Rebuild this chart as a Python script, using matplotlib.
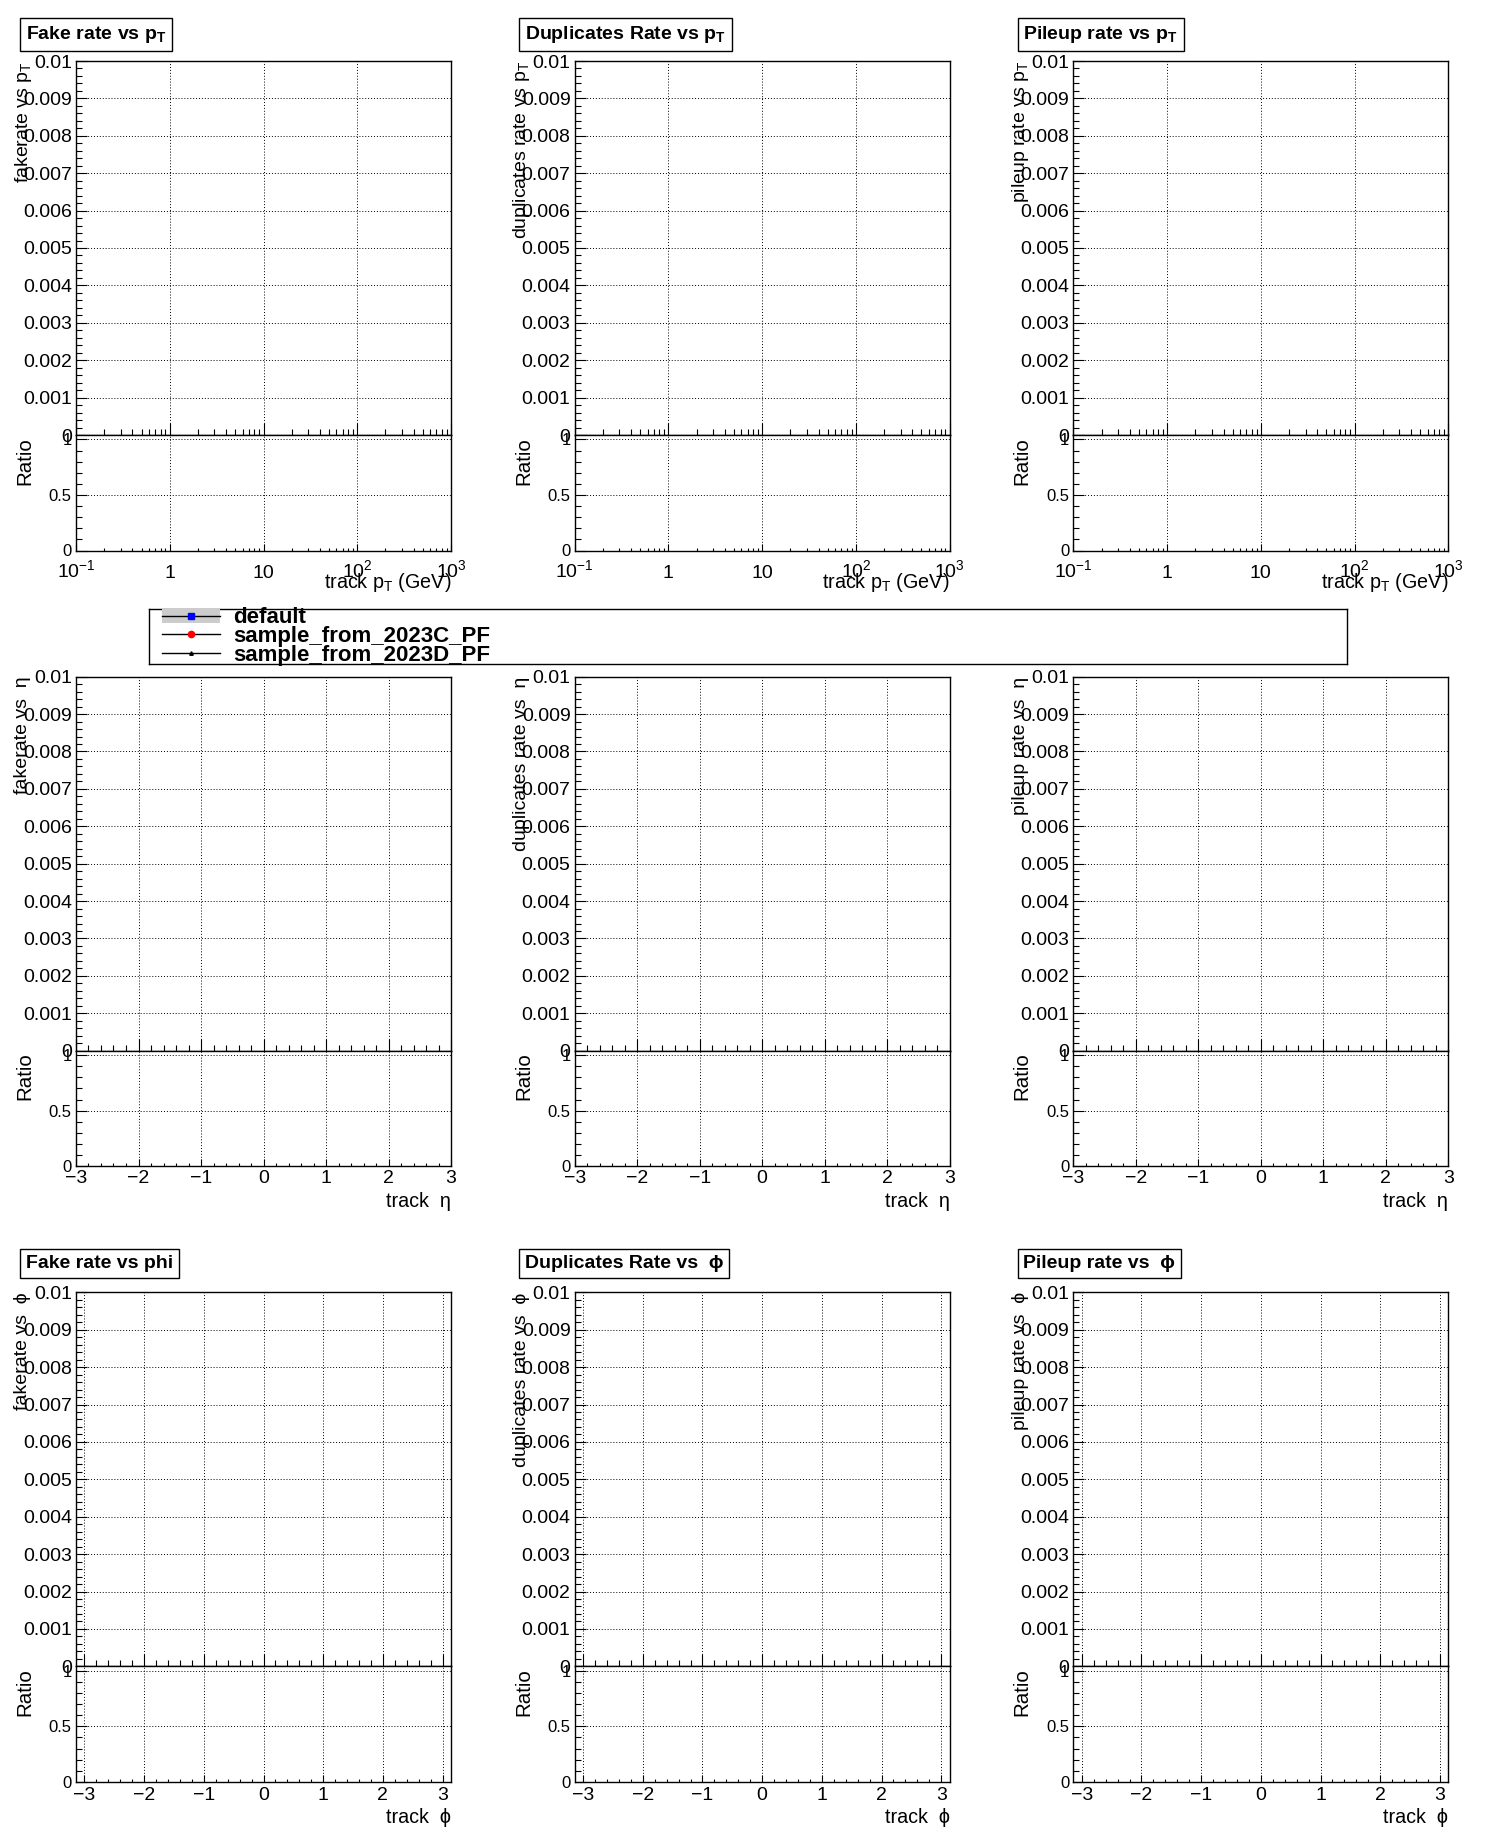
import numpy as np
import matplotlib
matplotlib.use("Agg")
import matplotlib.pyplot as plt
from matplotlib.ticker import MultipleLocator, LogLocator, NullFormatter, FixedLocator, FuncFormatter

plt.rcParams['font.family'] = ['Liberation Sans', 'DejaVu Sans']
plt.rcParams['mathtext.fontset'] = 'custom'
plt.rcParams['mathtext.rm'] = 'Liberation Sans'
plt.rcParams['mathtext.it'] = 'Liberation Sans:italic'
plt.rcParams['mathtext.bf'] = 'Liberation Sans:bold'
plt.rcParams['axes.unicode_minus'] = True

# ---------------- data (all histograms are empty in the reference) ----------------
series_names = ['default', 'sample_from_2023C_PF', 'sample_from_2023D_PF']
default_x, default_y, default_lo, default_hi = [], [], [], []
sampleC_x, sampleC_y = [], []
sampleD_x, sampleD_y = [], []
ratioC_y, ratioD_y = [], []

variables = ['pt', 'eta', 'phi']
panel_titles = [
    ['Fake rate vs p$_\\mathbf{T}$', 'Duplicates Rate vs p$_\\mathbf{T}$', 'Pileup rate vs p$_\\mathbf{T}$'],
    [None, None, None],
    ['Fake rate vs phi', 'Duplicates Rate vs  ϕ', 'Pileup rate vs  ϕ'],
]
y_titles = [
    ['fakerate vs p$_\\mathrm{T}$', 'duplicates rate vs p$_\\mathrm{T}$', 'pileup rate vs p$_\\mathrm{T}$'],
    ['fakerate vs  η', 'duplicates rate vs  η', 'pileup rate vs  η'],
    ['fakerate vs  ϕ', 'duplicates rate vs  ϕ', 'pileup rate vs  ϕ'],
]
x_titles = ['track p$_\\mathrm{T}$ (GeV)', 'track  η', 'track  ϕ']
x_ranges = [(0.1, 1000.0), (-3.0, 3.0), (-np.pi, np.pi)]
pt_ticks = [0.1, 1, 10, 100, 1000]
pt_ticklabels = ['$10^{-1}$', '1', '10', '$10^{2}$', '$10^{3}$']
angle_ticks = [-3, -2, -1, 0, 1, 2, 3]
rate_range = (0.0, 0.01)
ratio_range = (0.0, 1.04)
ratio_ticks = [0, 0.5, 1]

# ---------------- layout (pixels) ----------------
W, H = 1496, 1847
fig = plt.figure(figsize=(W / 100, H / 100), dpi=100)
col_w, row_h = W / 3, H / 3
AX_L, AX_R = 76, 451
TOP, MID, BOT = 61, 435, 550.5
xlab_base = [27, 17, 18]      # baseline of x tick labels below axis (px)
xtitle_base = [588, 591, 591.5]
title_base = [39, None, 37]

grid_kw = dict(color='black', linestyle=(0, (1, 2)), linewidth=0.7)
PT = 0.72  # px -> pt


def fmt_rate(v, p):
    s = f'{v:.3f}'.rstrip('0').rstrip('.')
    return '0' if s in ('-0', '') else s


def fmt_ratio(v, p):
    s = f'{v:.1f}'.rstrip('0').rstrip('.')
    return '0' if s in ('-0', '') else s


def fmt_int(v, p):
    n = int(round(v))
    return f'{n}'.replace('-', '\u2212')


legend_handles = None
for r in range(3):
    for c in range(3):
        x0 = c * col_w + AX_L
        x1 = c * col_w + AX_R
        ry = r * row_h
        up = fig.add_axes([x0 / W, 1 - (ry + MID) / H, (x1 - x0) / W, (MID - TOP) / H])
        lo = fig.add_axes([x0 / W, 1 - (ry + BOT) / H, (x1 - x0) / W, (BOT - MID) / H])

        # empty series
        band = up.fill_between(default_x, default_lo, default_hi, color='#cccccc', linewidth=0)
        l0, = up.plot(default_x, default_y, color='black', lw=1, marker='s', ms=4,
                      mfc='blue', mec='blue')
        l1, = up.plot(sampleC_x, sampleC_y, color='black', lw=1, marker='o', ms=4.5,
                      mfc='red', mec='red')
        l2, = up.plot(sampleD_x, sampleD_y, color='black', lw=1, marker='^', ms=2.5,
                      mfc='black', mec='black')
        lo.plot(sampleC_x, ratioC_y, color='black', lw=1, marker='o', ms=4.5, mfc='red', mec='red')
        lo.plot(sampleD_x, ratioD_y, color='black', lw=1, marker='^', ms=2.5, mfc='black')
        if legend_handles is None:
            legend_handles = [(band, l0), l1, l2]

        for ax in (up, lo):
            for s in ax.spines.values():
                s.set_linewidth(1.0)
            if variables[r] == 'pt':
                ax.set_xscale('log')
                ax.xaxis.set_major_locator(FixedLocator(pt_ticks))
                ax.xaxis.set_minor_locator(LogLocator(base=10, subs=np.arange(2, 10)))
                ax.xaxis.set_minor_formatter(NullFormatter())
            else:
                ax.xaxis.set_major_locator(FixedLocator(angle_ticks))
                ax.xaxis.set_minor_locator(MultipleLocator(0.2))
                ax.xaxis.set_major_formatter(FuncFormatter(fmt_int))
            ax.set_xlim(*x_ranges[r])
            ax.grid(True, which='major', **grid_kw)
            ax.set_axisbelow(True)

        # upper pad
        up.set_ylim(*rate_range)
        up.yaxis.set_major_locator(MultipleLocator(0.001))
        up.yaxis.set_minor_locator(MultipleLocator(0.0002))
        up.yaxis.set_major_formatter(FuncFormatter(fmt_rate))
        up.tick_params(which='both', direction='in', top=False, right=False, labelbottom=False)
        up.tick_params(axis='x', which='major', length=12 * PT, width=0.8)
        up.tick_params(axis='x', which='minor', length=6 * PT, width=0.8)
        up.tick_params(axis='y', which='major', length=11 * PT, width=0.8, labelsize=14, pad=3)
        up.tick_params(axis='y', which='minor', length=6 * PT, width=0.8)

        # ratio pad
        lo.set_ylim(*ratio_range)
        lo.yaxis.set_major_locator(FixedLocator(ratio_ticks))
        lo.yaxis.set_minor_locator(MultipleLocator(0.1))
        lo.yaxis.set_major_formatter(FuncFormatter(fmt_ratio))
        lo.tick_params(which='both', direction='in', top=False, right=False)
        lo.tick_params(axis='x', which='major', length=7.5 * PT, width=0.8, labelsize=14,
                       pad=xlab_base[r] * PT)
        lo.tick_params(axis='x', which='minor', length=3.5 * PT, width=0.8)
        lo.tick_params(axis='y', which='major', length=11 * PT, width=0.8, labelsize=12, pad=3)
        lo.tick_params(axis='y', which='minor', length=6 * PT, width=0.8)
        if variables[r] == 'pt':
            lo.set_xticklabels(pt_ticklabels)
        for t in lo.xaxis.get_major_ticks():
            t.label1.set_verticalalignment('baseline')

        # axis titles
        fig.text(x1 / W, 1 - (ry + xtitle_base[r]) / H, x_titles[r], ha='right', va='baseline',
                 fontsize=14.2)
        fig.text((c * col_w + 23) / W, 1 - (ry + TOP) / H, y_titles[r][c], rotation=90,
                 ha='center', va='top', fontsize=14)
        fig.text((c * col_w + 25) / W, 1 - (ry + MID + 2) / H, 'Ratio', rotation=90,
                 ha='center', va='top', fontsize=14.8)

        # panel title boxes
        if panel_titles[r][c]:
            fig.text((c * col_w + 26) / W, 1 - (ry + title_base[r]) / H, panel_titles[r][c],
                     ha='left', va='baseline', fontsize=14, fontweight='bold',
                     bbox=dict(boxstyle='square,pad=0.3', fc='white', ec='black', lw=1.0))

# legend box
LX0, LX1, LY0, LY1 = 149.3, 1346.7, 609.3, 664
lax = fig.add_axes([LX0 / W, 1 - LY1 / H, (LX1 - LX0) / W, (LY1 - LY0) / H])
lax.set_xticks([])
lax.set_yticks([])
lax.set_facecolor('white')
for s in lax.spines.values():
    s.set_linewidth(1.0)
lax.legend(legend_handles, series_names, loc='center left',
           bbox_to_anchor=(13 / (LX1 - LX0), 0.5), frameon=False, borderpad=0,
           borderaxespad=0, labelspacing=-0.1, handlelength=2.6, handletextpad=0.6,
           prop=dict(family=['Liberation Sans'], weight='bold', size=16))

fig.savefig('out.png', dpi=100)
